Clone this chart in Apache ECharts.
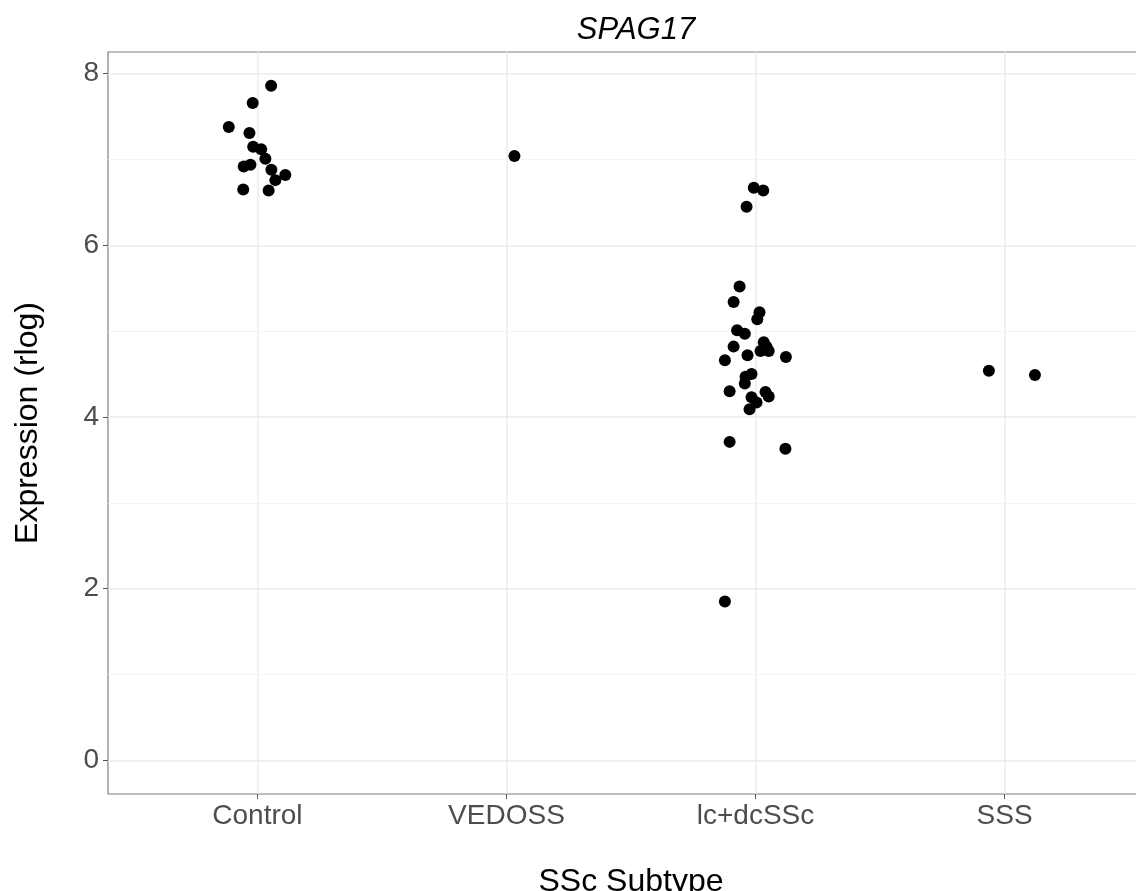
<!DOCTYPE html>
<html>
<head>
<meta charset="utf-8">
<script src="https://cdn.jsdelivr.net/npm/echarts@6/dist/echarts.min.js"></script>
<style>
  html, body { margin: 0; padding: 0; background: #fff; }
  #chart { width: 1136px; height: 891px; }
</style>
</head>
<body>
<div id="chart"></div>
<script>
// subtypes on the x axis (placed at 1..4)
var subtypes = ['Control', 'VEDOSS', 'lc+dcSSc', 'SSS'];
var yTicks = [0, 2, 4, 6, 8];
var yMinor = [1, 3, 5, 7];

// jitter offset from the category centre, and the rlog value, per subtype
var controlJitter = [0.055, -0.019, -0.115, -0.032, -0.017, 0.015, 0.032, -0.028, -0.055, 0.056, 0.112, 0.072, -0.057, 0.045];
var controlExpr   = [7.86, 7.66, 7.38, 7.31, 7.15, 7.12, 7.01, 6.94, 6.92, 6.88, 6.82, 6.76, 6.65, 6.64];

var vedossJitter = [0.032];
var vedossExpr   = [7.04];

var lcdcJitter = [-0.007, 0.031, -0.036, -0.064, -0.088, 0.016, 0.007, -0.074, -0.043, -0.088, 0.033, 0.020, 0.053, 0.044, 0.122,
                  -0.032, -0.123, -0.016, -0.040, -0.043, -0.104, 0.040, 0.053, -0.016, 0.004, -0.024, -0.104, 0.120, -0.123];
var lcdcExpr   = [6.67, 6.64, 6.45, 5.52, 5.34, 5.22, 5.14, 5.01, 4.97, 4.82, 4.87, 4.77, 4.77, 4.82, 4.70,
                  4.72, 4.66, 4.50, 4.47, 4.39, 4.30, 4.29, 4.24, 4.23, 4.17, 4.09, 3.71, 3.63, 1.85];

var sssJitter = [-0.063, 0.122];
var sssExpr   = [4.54, 4.49];

var groups = [
  [controlJitter, controlExpr],
  [vedossJitter, vedossExpr],
  [lcdcJitter, lcdcExpr],
  [sssJitter, sssExpr]
];

var points = [];
groups.forEach(function (g, i) {
  g[1].forEach(function (v, k) {
    points.push([i + 1 + g[0][k], v]);
  });
});

var font = '"Liberation Sans", Arial, sans-serif';

var chart = echarts.init(document.getElementById('chart'), null, { renderer: 'canvas' });
chart.setOption({
  animation: false,
  backgroundColor: '#fff',
  title: {
    text: 'SPAG17',
    left: 631,
    top: 10,
    textAlign: 'center',
    textStyle: {
      fontFamily: font,
      fontStyle: 'italic',
      fontWeight: 'normal',
      fontSize: 31,
      color: '#000'
    }
  },
  grid: {
    left: 108,
    top: 52,
    width: 1046,
    height: 742,
    outerBoundsMode: 'none',
    show: true,
    borderColor: '#7f7f7f',
    borderWidth: 1.2,
    containLabel: false
  },
  xAxis: {
    type: 'value',
    min: 0.4,
    max: 4.6,
    name: 'SSc Subtype',
    nameLocation: 'middle',
    nameGap: 72,
    nameTextStyle: { fontFamily: font, fontSize: 32, color: '#000' },
    axisLine: { show: false, onZero: false },
    axisTick: {
      show: true,
      customValues: [1, 2, 3, 4],
      length: 5,
      lineStyle: { color: '#555', width: 1 }
    },
    axisLabel: {
      customValues: [1, 2, 3, 4],
      margin: 8,
      fontFamily: font,
      fontSize: 28,
      color: '#4d4d4d',
      formatter: function (v) { return subtypes[Math.round(v) - 1]; }
    },
    splitLine: { show: true, lineStyle: { color: '#ebebeb', width: 1.5 } }
  },
  yAxis: {
    type: 'value',
    min: -0.393,
    max: 8.253,
    name: 'Expression (rlog)',
    nameLocation: 'middle',
    nameGap: 64,
    nameTextStyle: { fontFamily: font, fontSize: 32, color: '#000' },
    axisLine: { show: false, onZero: false },
    axisTick: {
      show: true,
      customValues: yTicks,
      length: 5,
      lineStyle: { color: '#555', width: 1 }
    },
    axisLabel: {
      customValues: yTicks,
      margin: 9,
      fontFamily: font,
      fontSize: 28,
      color: '#4d4d4d'
    },
    splitLine: { show: true, lineStyle: { color: '#ebebeb', width: 1.5 } }
  },
  series: [{
    type: 'scatter',
    data: points,
    symbol: 'circle',
    symbolSize: 12,
    itemStyle: { color: '#000', opacity: 1 },
    z: 5,
    markLine: {
      silent: true,
      symbol: 'none',
      label: { show: false },
      z: 1,
      lineStyle: { color: '#f4f4f4', width: 1, type: 'solid' },
      data: yMinor.map(function (v) { return { yAxis: v }; })
    }
  }]
});
</script>
</body>
</html>
